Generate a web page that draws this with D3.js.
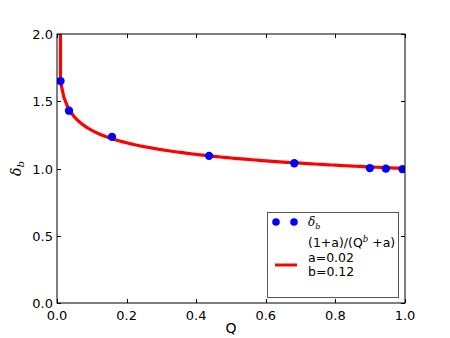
<!DOCTYPE html>
<html><head><meta charset="utf-8">
<script src="https://cdn.jsdelivr.net/npm/d3@7"></script>
<style>body{margin:0;background:#fff}svg{display:block}text{font-family:"DejaVu Sans",sans-serif}</style>
</head><body>
<svg id="c" width="450" height="338"></svg>
<script>
const pointQ = [0.01, 0.0345, 0.158, 0.437, 0.682, 0.899, 0.945, 0.993];
const pointDelta = [1.65, 1.43, 1.235, 1.094, 1.039, 1.003, 0.999, 0.995];
const curveA = 0.02, curveB = 0.111;
const curveQ = d3.range(0, 101).map(i => i / 100);
const legendLines = ["a=0.02", "b=0.12"];
const xTicks = [0.0, 0.2, 0.4, 0.6, 0.8, 1.0];
const yTicks = [0.0, 0.5, 1.0, 1.5, 2.0];

const svg = d3.select("#c");
const L = 57, R = 405, T = 34, B = 303;
const x = d3.scaleLinear().domain([0, 1]).range([L, R]);
const y = d3.scaleLinear().domain([0, 2]).range([B, T]);

svg.append("clipPath").attr("id", "clip").append("rect")
  .attr("x", L).attr("y", T).attr("width", R - L).attr("height", B - T);

// curve
const f = q => (1 + curveA) / (Math.pow(q, curveB) + curveA);
svg.append("path").attr("clip-path", "url(#clip)")
  .attr("d", d3.line().x(q => x(q)).y(q => y(f(q)))(curveQ))
  .attr("fill", "none").attr("stroke", "#ff0000").attr("stroke-width", 3.2);

// points
svg.append("g").attr("clip-path", "url(#clip)").selectAll("circle").data(pointQ).enter().append("circle")
  .attr("cx", d => x(d)).attr("cy", (d, i) => y(pointDelta[i])).attr("r", 4.2)
  .attr("fill", "#0000ff");

// frame
svg.append("rect").attr("x", L).attr("y", T).attr("width", R - L).attr("height", B - T)
  .attr("fill", "none").attr("stroke", "#000").attr("stroke-width", 1);

const tk = 4;
const fmt = d3.format(".1f");
// x ticks
const gx = svg.append("g");
xTicks.forEach(t => {
  const px = Math.round(x(t)) + 0.5;
  gx.append("line").attr("x1", px).attr("x2", px).attr("y1", B).attr("y2", B - tk).attr("stroke", "#000");
  gx.append("line").attr("x1", px).attr("x2", px).attr("y1", T).attr("y2", T + tk).attr("stroke", "#000");
  gx.append("text").attr("x", x(t)).attr("y", B + 17).attr("text-anchor", "middle")
    .attr("font-size", 13).text(fmt(t));
});
// y ticks
const gy = svg.append("g");
yTicks.forEach(t => {
  const py = Math.round(y(t)) + 0.5;
  gy.append("line").attr("x1", L).attr("x2", L + tk).attr("y1", py).attr("y2", py).attr("stroke", "#000");
  gy.append("line").attr("x1", R).attr("x2", R - tk).attr("y1", py).attr("y2", py).attr("stroke", "#000");
  gy.append("text").attr("x", L - 4).attr("y", y(t) + 5).attr("text-anchor", "end")
    .attr("font-size", 13).text(fmt(t));
});

// axis labels
svg.append("text").attr("x", (L + R) / 2).attr("y", 333).attr("text-anchor", "middle")
  .attr("font-size", 14).text("Q");
const yl = svg.append("text").attr("transform", `translate(21,${(T + B) / 2}) rotate(-90)`)
  .attr("text-anchor", "middle").attr("font-size", 14)
  .style("font-family", "'DejaVu Serif',serif").style("font-style", "italic");
yl.append("tspan").text("δ");
yl.append("tspan").attr("font-size", 10).attr("dy", 3).text("b");

// legend
const lg = svg.append("g");
lg.append("rect").attr("x", 267.5).attr("y", 212.5).attr("width", 131).attr("height", 85)
  .attr("fill", "#fff").attr("stroke", "#555");
[276, 294].forEach(cx => lg.append("circle").attr("cx", cx).attr("cy", 222).attr("r", 3.8).attr("fill", "#0000ff"));
const l1 = lg.append("text").attr("x", 308).attr("y", 226).attr("font-size", 12)
  .style("font-family", "'DejaVu Serif',serif").style("font-style", "italic");
l1.append("tspan").text("δ");
l1.append("tspan").attr("font-size", 8).attr("dy", 3).text("b");
lg.append("line").attr("x1", 275).attr("x2", 297).attr("y1", 265).attr("y2", 265)
  .attr("stroke", "#ff0000").attr("stroke-width", 3);
const t1 = lg.append("text").attr("x", 308).attr("y", 247).attr("font-size", 12.5);
t1.append("tspan").text("(1+a)/(Q");
t1.append("tspan").attr("font-size", 8.5).attr("dy", -5).style("font-family", "'DejaVu Serif',serif").style("font-style", "italic").text("b");
t1.append("tspan").attr("dy", 5).text(" +a)");
legendLines.forEach((s, i) => lg.append("text").attr("x", 308).attr("y", 262 + i * 14).attr("font-size", 12.5).text(s));
</script>
</body></html>
